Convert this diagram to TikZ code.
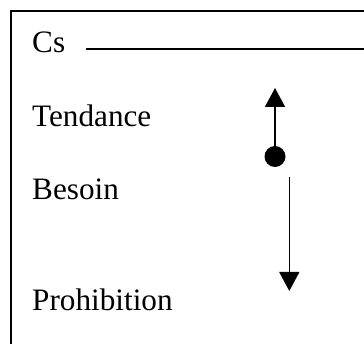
\documentclass[tikz,border=0pt]{standalone}
\usepackage{fontspec}
\setmainfont{Liberation Serif}
\usetikzlibrary{arrows.meta}
\begin{document}
\begin{tikzpicture}[x=1pt,y=-1pt,
  lbl/.style={anchor=base west,inner sep=0pt,font=\fontsize{31.2}{37}\selectfont},
  ln/.style={line width=1.4pt},
  arr/.style={ln,-{Triangle[width=20pt,length=19pt]}},
  dotnode/.style={circle,fill=black,minimum size=21pt,inner sep=0pt}]
\useasboundingbox (0,0) rectangle (364,344);
% frame
\coordinate (fbl) at (11,345);
\coordinate (ftl) at (11,11);
\coordinate (ftr) at (365,11);
\draw[ln] (fbl) -- (ftl) -- (ftr);
% labels
\node[lbl] (cs) at (32,52.7) {Cs};
\node[lbl] (tend) at (32,126.7) {Tendance};
\node[lbl] (bes) at (32,200) {Besoin};
\node[lbl] (proh) at (32,311) {Prohibition};
% Cs line
\coordinate (csa) at (86,49);
\coordinate (csb) at (365,49);
\draw[ln] (csa) -- (csb);
% dot and arrows
\node[dotnode] (dot) at (275,156.5) {};
\coordinate (uptip) at (275,88);
\draw[arr] (dot.center) -- (uptip);
\coordinate (dstart) at (289.3,177);
\coordinate (dtip) at (289.3,291);
\draw[arr] (dstart) -- (dtip);
\end{tikzpicture}
\end{document}
